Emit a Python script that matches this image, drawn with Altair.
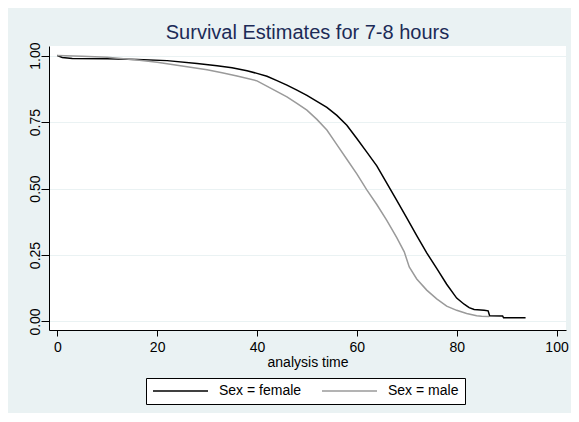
import altair as alt
import pandas as pd

# Kaplan-Meier estimates
female_t = [0, 1, 3, 10, 16, 22, 28, 32, 35, 38, 40, 42, 44, 46, 48, 50, 52, 54, 56,
            58, 60, 62, 64, 66, 68, 70, 72, 74, 76, 78, 80, 81.5, 82.5, 83.5, 85.5,
            86.3, 86.6, 89.2, 89.4, 93.8]
female_s = [1.0, 0.993, 0.989, 0.988, 0.985, 0.981, 0.970, 0.962, 0.954, 0.943, 0.933,
            0.922, 0.906, 0.889, 0.870, 0.850, 0.828, 0.805, 0.775, 0.738, 0.688,
            0.637, 0.585, 0.520, 0.455, 0.390, 0.323, 0.258, 0.200, 0.140, 0.088,
            0.065, 0.052, 0.045, 0.042, 0.040, 0.022, 0.021, 0.014, 0.014]

male_t = [0, 5, 10, 16, 20, 23, 26, 30, 33, 36, 40, 43, 46, 48, 50, 52, 54, 56, 58,
          60, 62, 64, 66, 68, 69.5, 70.5, 72, 74, 76, 78, 80, 82, 84, 85, 86.5]
male_s = [1.0, 0.997, 0.994, 0.983, 0.975, 0.966, 0.958, 0.947, 0.935, 0.923, 0.905,
          0.875, 0.845, 0.820, 0.795, 0.760, 0.720, 0.665, 0.610, 0.555, 0.495,
          0.440, 0.380, 0.315, 0.262, 0.205, 0.160, 0.118, 0.085, 0.058, 0.042,
          0.030, 0.022, 0.020, 0.019]

groups = ["Sex = female", "Sex = male"]
x_ticks = [0, 20, 40, 60, 80, 100]
y_ticks = [0, 0.25, 0.5, 0.75, 1.0]

df = pd.concat([
    pd.DataFrame({"t": female_t, "s": female_s, "sex": groups[0], "o": range(len(female_t))}),
    pd.DataFrame({"t": male_t, "s": male_s, "sex": groups[1], "o": range(len(male_t))}),
])

FONT = "Liberation Sans"
BG = "#EAF2F3"

chart = alt.Chart(df).mark_line(strokeWidth=1.5, interpolate="linear").encode(
    x=alt.X("t:Q",
            scale=alt.Scale(domain=[-1.66, 101.9], nice=False, zero=False),
            axis=alt.Axis(values=x_ticks, title="analysis time", grid=False,
                          domainColor="black", tickColor="black", tickSize=6,
                          labelFont=FONT, labelFontSize=14, labelColor="black",
                          labelPadding=4, titleFont=FONT, titleFontSize=14,
                          titleFontWeight="normal", titleColor="black",
                          titlePadding=1)),
    y=alt.Y("s:Q",
            scale=alt.Scale(domain=[-0.032, 1.036], nice=False, zero=False),
            axis=alt.Axis(values=y_ticks, format=".2f", title=None, grid=True,
                          gridColor=BG, gridWidth=1, domainColor="black",
                          tickColor="black", tickSize=8, labelAngle=270,
                          labelAlign="center", labelBaseline="alphabetic",
                          labelPadding=2, labelFont=FONT, labelFontSize=14,
                          labelColor="black")),
    color=alt.Color("sex:N",
                    scale=alt.Scale(domain=groups, range=["black", "#9a9a9a"]),
                    legend=alt.Legend(orient="none", legendX=97, legendY=332,
                                      direction="horizontal", columns=2, title=None,
                                      symbolType="stroke", symbolSize=3025,
                                      symbolStrokeWidth=1.5, clipHeight=14,
                                      labelOffset=10, columnPadding=19, padding=6,
                                      strokeColor="black", fillColor="white",
                                      labelFont=FONT, labelFontSize=14,
                                      labelColor="black", cornerRadius=0)),
    order="o:Q",
).properties(
    width=517,
    height=284,
    autosize=alt.AutoSizeParams(type="none"),
    padding={"left": 41, "top": 38, "right": 5, "bottom": 83},
    title=alt.Title("Survival Estimates for 7-8 hours", font=FONT, fontSize=20,
                    fontWeight="normal", color="#1c2b57", anchor="middle",
                    baseline="alphabetic", offset=6, dy=23),
).configure(
    background=BG,
).configure_view(
    fill="white", strokeWidth=0,
)

chart.save("out.html", embed_options={"renderer": "svg", "actions": False})
